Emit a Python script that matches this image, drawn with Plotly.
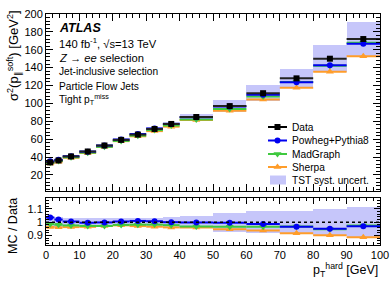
import plotly.graph_objects as go

# ---- data ----
bin_edges = [0, 2.5, 5, 10, 15, 20, 25, 30, 35, 40, 50, 60, 70, 80, 90, 100]
data_vals = [34, 36.2, 40.7, 46.2, 52.9, 59.2, 65.1, 71.4, 77.0, 84.8, 97.0, 111.4, 128.0, 150.0, 172.0]
powheg_vals = [35.2, 36.9, 40.9, 46.0, 52.8, 59.5, 65.7, 71.9, 77.0, 84.6, 96.5, 109.8, 123.6, 142.7, 166.7]
madgraph_vals = [33.5, 35.5, 39.7, 44.9, 51.4, 58.0, 63.9, 70.1, 75.3, 82.1, 93.7, 107.6, 123.9, 142.1, 167.7]
sherpa_vals = [32.8, 34.8, 39.2, 44.6, 51.4, 57.8, 63.2, 69.0, 74.0, 81.5, 91.9, 104.4, 117.5, 135.5, 152.7]
tst_rel_unc = [0.04, 0.035, 0.03, 0.03, 0.03, 0.03, 0.03, 0.03, 0.035, 0.045, 0.07, 0.08, 0.08, 0.10, 0.11]

centers = [(a + b) / 2 for a, b in zip(bin_edges[:-1], bin_edges[1:])]
halfw = [(b - a) / 2 for a, b in zip(bin_edges[:-1], bin_edges[1:])]
widths = [2 * h for h in halfw]

BLUE = "#0000f0"
GREEN = "#3fc93f"
ORANGE = "#ff9d2a"
BAND = "rgb(198,198,250)"
FONT = "Liberation Sans, Arial, sans-serif"

# plot-area pixel geometry
L, R, T, B = 46, 380, 14, 245
W, H = 390, 282


def fx(px):
    return (px - L) / (R - L)


def fy(py):
    return (B - py) / (B - T)


fig = go.Figure()

# ---- TST band ----
fig.add_trace(go.Bar(x=centers, width=widths,
                     base=[d * (1 - u) for d, u in zip(data_vals, tst_rel_unc)],
                     y=[2 * d * u for d, u in zip(data_vals, tst_rel_unc)],
                     marker=dict(color=BAND, line=dict(width=0)),
                     xaxis="x", yaxis="y", showlegend=False, hoverinfo="skip"))
fig.add_trace(go.Bar(x=centers, width=widths,
                     base=[1 - u for u in tst_rel_unc],
                     y=[2 * u for u in tst_rel_unc],
                     marker=dict(color=BAND, line=dict(width=0)),
                     xaxis="x2", yaxis="y2", showlegend=False, hoverinfo="skip"))

series = [
    ("Sherpa", sherpa_vals, ORANGE, "triangle-up", 7),
    ("MadGraph", madgraph_vals, GREEN, "triangle-down", 7),
    ("Powheg+Pythia8", powheg_vals, BLUE, "circle", 6),
]

for name, vals, col, sym, sz in series:
    fig.add_trace(go.Scatter(x=centers, y=vals, mode="markers",
                             marker=dict(symbol=sym, size=sz, color=col),
                             error_x=dict(type="data", array=halfw, symmetric=True,
                                          width=0, thickness=2, color=col),
                             xaxis="x", yaxis="y", showlegend=False))
    ratio = [v / d for v, d in zip(vals, data_vals)]
    fig.add_trace(go.Scatter(x=centers, y=ratio, mode="markers",
                             marker=dict(symbol=sym, size=sz, color=col),
                             error_x=dict(type="data", array=halfw, symmetric=True,
                                          width=0, thickness=2, color=col),
                             xaxis="x2", yaxis="y2", showlegend=False))

fig.add_trace(go.Scatter(x=centers, y=data_vals, mode="markers",
                         marker=dict(symbol="square", size=6, color="black"),
                         error_x=dict(type="data", array=halfw, symmetric=True,
                                      width=0, thickness=2, color="#222222"),
                         xaxis="x", yaxis="y", showlegend=False))

# ---- manual legend (overlay axis in plot-area fractions) ----
leg_rows = [
    ("Data", "black", "square", 6, 127),
    ("Powheg+Pythia8", BLUE, "circle", 6, 140.5),
    ("MadGraph", GREEN, "triangle-down", 7, 154),
    ("Sherpa", ORANGE, "triangle-up", 7, 167),
]
for name, col, sym, sz, py in leg_rows:
    fig.add_trace(go.Scatter(x=[fx(268), fx(287)], y=[fy(py), fy(py)], mode="lines",
                             line=dict(color=col, width=2),
                             xaxis="x3", yaxis="y3", showlegend=False, hoverinfo="skip"))
    fig.add_trace(go.Scatter(x=[fx(277.5)], y=[fy(py)], mode="markers",
                             marker=dict(symbol=sym, size=sz, color=col),
                             xaxis="x3", yaxis="y3", showlegend=False, hoverinfo="skip"))

shapes = [
    dict(type="rect", xref="paper", yref="paper",
         x0=fx(270), x1=fx(286), y0=fy(184.5), y1=fy(175.5),
         fillcolor=BAND, line=dict(width=0), layer="above"),
    dict(type="line", xref="x2 domain", yref="y2", x0=0, x1=1, y0=1, y1=1,
         line=dict(color="black", width=1.5, dash="dot"), layer="above"),
]

annotations = []
for name, col, sym, sz, py in leg_rows + [("TST syst. uncert.", None, None, None, 180)]:
    annotations.append(dict(x=fx(290), y=fy(py), xref="paper", yref="paper",
                            text=name, showarrow=False, xanchor="left", yanchor="middle",
                            font=dict(family=FONT, size=10.2, color="black")))

txt = [
    ("<b><i>ATLAS</i></b>", 12.5, 28),
    ("140 fb<sup>-1</sup>, √s=13 TeV", 11.2, 43),
    ("<i>Z</i> → <i>ee</i> selection", 11.2, 58),
    ("Jet-inclusive selection", 10.2, 71.5),
    ("Particle Flow Jets", 10.2, 86),
    ("Tight p<sub>T</sub><sup>miss</sup>", 10.2, 100),
]
for t, s, py in txt:
    annotations.append(dict(x=fx(57), y=fy(py), xref="paper", yref="paper",
                            text=t, showarrow=False, xanchor="left", yanchor="middle",
                            font=dict(family=FONT, size=s, color="black")))

# axis titles
annotations.append(dict(x=fx(14), y=fy(56), xref="paper", yref="paper",
                        text="σ<sup>2</sup>(p<sub>∥</sub><sup>soft</sup>) [GeV<sup>2</sup>]",
                        textangle=-90, showarrow=False, xanchor="center", yanchor="middle",
                        font=dict(family=FONT, size=13, color="black")))
annotations.append(dict(x=fx(13), y=fy(226), xref="paper", yref="paper",
                        text="MC / Data", textangle=-90, showarrow=False,
                        xanchor="center", yanchor="middle",
                        font=dict(family=FONT, size=12.5, color="black")))
annotations.append(dict(x=1.0, y=fy(270), xref="paper", yref="paper",
                        text="p<sub>T</sub><sup>hard</sup> [GeV]", showarrow=False,
                        xanchor="right", yanchor="middle",
                        font=dict(family=FONT, size=12.5, color="black")))

axis_common = dict(showline=True, linecolor="black", linewidth=1, mirror="allticks",
                   ticks="inside", tickcolor="black", showgrid=False, zeroline=False,
                   automargin=False,
                   tickfont=dict(family=FONT, size=11, color="black"))

fig.update_layout(
    width=W, height=H,
    margin=dict(l=L, r=W - R, t=T, b=H - B, autoexpand=False),
    paper_bgcolor="white", plot_bgcolor="rgba(0,0,0,0)",
    barmode="overlay", bargap=0,
    showlegend=False,
    xaxis=dict(domain=[0, 1], anchor="y", range=[0, 100], dtick=10, tick0=0, ticklen=7,
               showticklabels=False, matches="x2",
               minor=dict(dtick=2, ticklen=4, ticks="inside", tickcolor="black"),
               **axis_common),
    yaxis=dict(domain=[fy(191), 1], anchor="x", range=[2, 200], dtick=20, tick0=0, ticklen=7,
               minor=dict(dtick=4, ticklen=4, ticks="inside", tickcolor="black"),
               **axis_common),
    xaxis2=dict(domain=[0, 1], anchor="y2", range=[0, 100], dtick=10, tick0=0, ticklen=6,
                minor=dict(dtick=2, ticklen=3, ticks="inside", tickcolor="black"),
                **axis_common),
    yaxis2=dict(domain=[0, fy(198)], anchor="x2", range=[0.83, 1.18], dtick=0.1, tick0=0.9,
                ticklen=6,
                minor=dict(dtick=0.02, ticklen=3, ticks="inside", tickcolor="black"),
                **axis_common),
    xaxis3=dict(domain=[0, 1], anchor="y3", range=[0, 1], visible=False, fixedrange=True),
    yaxis3=dict(domain=[0, 1], anchor="x3", range=[0, 1], visible=False, fixedrange=True),
    shapes=shapes,
    annotations=annotations,
)

fig.write_html("out.html", config={"displayModeBar": False},
               post_script="document.body.style.margin='0';document.body.style.padding='0';")
